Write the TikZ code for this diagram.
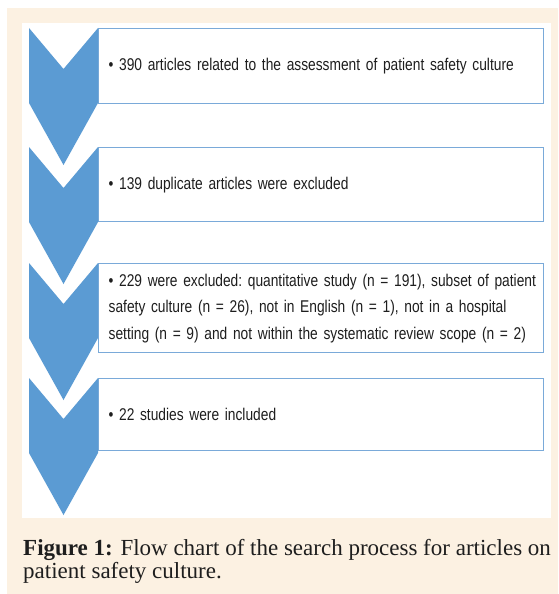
\documentclass[tikz,border=0pt]{standalone}
\usepackage{fontspec}
\setmainfont{Liberation Serif}
\newfontfamily\chartfont[FakeStretch=0.81]{Liberation Sans}
\definecolor{chevblue}{HTML}{5B9BD3}
\definecolor{boxblue}{HTML}{7AAAD9}
\definecolor{cream}{HTML}{FCF1E2}
\definecolor{inkgrey}{HTML}{1E1E1E}

\begin{document}
\begin{tikzpicture}[
  x=1pt, y=-1pt,
  stagebox/.style={rectangle, draw=boxblue, line width=1.3pt, fill=white, anchor=north west,
                   minimum width=445pt, text width=425pt, inner xsep=10pt, inner ysep=0pt,
                   align=left, text=inkgrey,
                   font=\chartfont\fontsize{17}{26.5}\selectfont\frenchspacing},
  chevron/.style={fill=chevblue, draw=none},
  caption/.style={anchor=base west, inner sep=0pt, align=left, text=inkgrey,
                  font=\fontsize{23}{23}\selectfont},
]
\useasboundingbox (0,0) rectangle (558,594);

%% Background
\fill[white] (0,0) rectangle (558,594);
\fill[cream] (7,8) rectangle (558,594);
\fill[white] (22,23) rectangle (551,518);

%% Nodes
\node[stagebox, minimum height=75pt] (found) at (98,28)
  {• 390 articles related to the assessment of patient safety culture};
\node[stagebox, minimum height=74pt] (dupl)  at (98,147)
  {• 139 duplicate articles were excluded};
\node[stagebox, minimum height=89pt] (excl)  at (98,263)
  {\mbox{• 229 were excluded: quantitative study (n = 191), subset of patient}\\
   safety culture (n = 26), not in English (n = 1), not in a hospital\\
   setting (n = 9) and not within the systematic review scope (n = 2)};
\node[stagebox, minimum height=72pt] (incl)  at (98,378)
  {• 22 studies were included};

%% Chevrons
\foreach \t in {28,147,263,378}
  \fill[chevron] (29,\t) -- (63.5,\t+41) -- (98,\t) -- (98,\t+75)
    -- (63.5,\t+137) -- (29,\t+75) -- cycle;

%% Caption (base anchor sits on the last line)
\node[caption] (cap) at (23,578)
  {\textbf{Figure 1:} Flow chart of the search process for articles on\\
   patient safety culture.};

\end{tikzpicture}
\end{document}
